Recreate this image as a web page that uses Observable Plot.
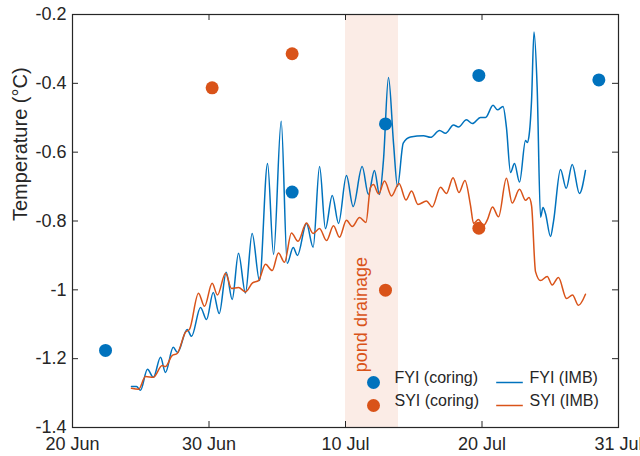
<!DOCTYPE html>
<html>
<head>
<meta charset="utf-8">
<script src="https://cdn.jsdelivr.net/npm/d3@7"></script>
<script src="https://cdn.jsdelivr.net/npm/@observablehq/plot@0.6"></script>
<style>
  html, body { margin: 0; padding: 0; background: #fff; overflow: hidden; }
</style>
</head>
<body>
<div id="chart"></div>
<script>
// ---- Data (x = days since 20 Jun 00:00) ----
const fyiImbDay = [4.32,4.69,4.98,5.49,5.93,6.45,6.81,7.38,7.69,8.40,8.72,9.38,9.82,10.31,10.75,11.26,11.70,12.16,12.67,13.16,13.70,14.29,14.73,15.29,15.73,16.17,16.48,17.14,17.63,18.10,18.53,19.03,19.49,20.07,20.56,21.22,21.68,22.12,22.49,22.78,23.15,23.52,23.81,24.23,24.76,25.71,26.23,26.89,27.33,27.91,28.28,28.86,29.30,29.89,30.26,30.81,31.14,31.54,31.79,32.09,32.38,32.75,33.19,33.31,33.44,33.63,33.81,34.04,34.29,34.47,34.65,35.02,35.24,35.75,36.17,36.61,37.14,37.58];
const fyiImbTemp = [-1.281,-1.281,-1.292,-1.231,-1.254,-1.196,-1.240,-1.167,-1.182,-1.115,-1.135,-1.051,-1.086,-1.008,-1.069,-0.949,-1.028,-0.894,-1.009,-0.836,-0.973,-0.633,-0.897,-0.510,-0.923,-0.877,-0.900,-0.807,-0.876,-0.642,-0.822,-0.726,-0.807,-0.668,-0.758,-0.642,-0.723,-0.653,-0.723,-0.624,-0.383,-0.575,-0.700,-0.574,-0.556,-0.552,-0.557,-0.537,-0.545,-0.521,-0.527,-0.506,-0.517,-0.499,-0.499,-0.464,-0.477,-0.467,-0.528,-0.659,-0.633,-0.687,-0.566,-0.572,-0.554,-0.450,-0.251,-0.411,-0.789,-0.761,-0.778,-0.845,-0.801,-0.650,-0.705,-0.636,-0.720,-0.653];

const syiImbDay = [4.32,4.84,5.35,5.93,6.57,6.81,7.30,7.67,8.28,8.57,9.23,9.67,10.23,10.62,11.21,11.65,12.16,12.67,13.19,13.63,14.14,14.63,15.09,15.53,16.04,16.52,17.14,17.63,18.10,18.61,19.12,19.56,20.07,20.49,21.03,21.50,21.83,22.05,22.42,22.86,23.37,23.92,24.43,24.84,25.31,25.93,26.35,26.96,27.40,27.88,28.31,28.75,29.16,29.38,29.74,30.11,30.40,30.77,31.21,31.79,32.21,32.75,33.19,33.44,33.63,33.92,34.29,34.78,35.14,35.60,36.19,36.63,37.07,37.58];
const syiImbTemp = [-1.286,-1.289,-1.252,-1.254,-1.220,-1.223,-1.191,-1.185,-1.123,-1.115,-1.010,-1.048,-0.981,-1.015,-0.952,-0.996,-0.993,-1.006,-0.980,-0.973,-0.926,-0.944,-0.893,-0.920,-0.835,-0.859,-0.806,-0.836,-0.822,-0.857,-0.814,-0.847,-0.798,-0.816,-0.790,-0.804,-0.702,-0.694,-0.721,-0.684,-0.727,-0.691,-0.739,-0.713,-0.752,-0.742,-0.759,-0.702,-0.720,-0.674,-0.717,-0.682,-0.755,-0.807,-0.796,-0.813,-0.796,-0.759,-0.788,-0.676,-0.748,-0.708,-0.740,-0.732,-0.755,-0.947,-0.973,-0.961,-0.986,-0.964,-1.025,-1.015,-1.045,-1.013];

const fyiCoreDay = [2.42,16.09,22.93,29.77,38.56];
const fyiCoreTemp = [-1.176,-0.716,-0.518,-0.377,-0.390];
const syiCoreDay = [10.23,16.09,22.93,29.77];
const syiCoreTemp = [-0.413,-0.314,-1.001,-0.821];

const drainageDays = [20.0, 23.88];
const drainageLabel = "pond drainage";
const drainageLabelDay = 21.17;
const drainageLabelTemp = -1.072;

const xTickValues = [0,10,20,30,40];
const xTickLabels = ["20 Jun","30 Jun","10 Jul","20 Jul","31 Jul"];
const yTickValues = [-1.4,-1.2,-1,-0.8,-0.6,-0.4,-0.2];
const yTickLabels = ["-1.4","-1.2","-1","-0.8","-0.6","-0.4","-0.2"];

const seriesNames = ["FYI (coring)","SYI (coring)","FYI (IMB)","SYI (IMB)"];
const yLabel = "Temperature (°C)";

// ---- Styling ----
const BLUE = "#0072BD", ORANGE = "#D95319", AX = "#262626";
const W = 640, H = 456, ML = 72, MR = 22, MT = 14, MB = 29;
const PW = W - ML - MR, PH = H - MT - MB;
const FONT = "'Liberation Sans', Arial, Helvetica, sans-serif";

const fyiImb = fyiImbDay.map((d, i) => ({day: d, temp: fyiImbTemp[i]}));
const syiImb = syiImbDay.map((d, i) => ({day: d, temp: syiImbTemp[i]}));
const fyiCore = fyiCoreDay.map((d, i) => ({day: d, temp: fyiCoreTemp[i]}));
const syiCore = syiCoreDay.map((d, i) => ({day: d, temp: syiCoreTemp[i]}));

const lineSymbol = {draw(ctx) { ctx.moveTo(-13.3, 0); ctx.lineTo(13.3, 0); }};

const legendMarks = [
  Plot.dot([seriesNames[0]], {frameAnchor: "bottom-left", dx: 301, dy: -45, r: 6.5, fill: BLUE, stroke: "none"}),
  Plot.text([seriesNames[0]], {frameAnchor: "bottom-left", dx: 322, dy: -45, text: d => d, textAnchor: "start", fontSize: 16, fill: AX}),
  Plot.dot([seriesNames[1]], {frameAnchor: "bottom-left", dx: 301, dy: -22, r: 6.5, fill: ORANGE, stroke: "none"}),
  Plot.text([seriesNames[1]], {frameAnchor: "bottom-left", dx: 322, dy: -22, text: d => d, textAnchor: "start", fontSize: 16, fill: AX}),
  Plot.dot([seriesNames[2]], {frameAnchor: "bottom-left", dx: 437, dy: -45, symbol: lineSymbol, r: 5, fill: "none", stroke: BLUE, strokeWidth: 1.5}),
  Plot.text([seriesNames[2]], {frameAnchor: "bottom-left", dx: 457, dy: -45, text: d => d, textAnchor: "start", fontSize: 16, fill: AX}),
  Plot.dot([seriesNames[3]], {frameAnchor: "bottom-left", dx: 437, dy: -22, symbol: lineSymbol, r: 5, fill: "none", stroke: ORANGE, strokeWidth: 1.5}),
  Plot.text([seriesNames[3]], {frameAnchor: "bottom-left", dx: 457, dy: -22, text: d => d, textAnchor: "start", fontSize: 16, fill: AX})
];

const chart = Plot.plot({
  width: W, height: H,
  marginLeft: ML, marginRight: MR, marginTop: MT, marginBottom: MB,
  style: {fontFamily: FONT, color: AX, background: "#fff", overflow: "visible"},
  x: {domain: [0, 40]},
  y: {domain: [-1.4, -0.2]},
  marks: [
    Plot.rectX([drainageDays], {x1: d => d[0], x2: d => d[1], fill: ORANGE, fillOpacity: 0.11}),
    Plot.text([drainageLabel], {x: () => drainageLabelDay, y: () => drainageLabelTemp, text: d => d, rotate: -90, fontSize: 18, fill: ORANGE}),
    Plot.line(fyiImb, {x: "day", y: "temp", stroke: BLUE, strokeWidth: 1.5, curve: "monotone-x"}),
    Plot.line(syiImb, {x: "day", y: "temp", stroke: ORANGE, strokeWidth: 1.5, curve: "monotone-x"}),
    Plot.dot(fyiCore, {x: "day", y: "temp", r: 6.5, fill: BLUE, stroke: "none"}),
    Plot.dot(syiCore, {x: "day", y: "temp", r: 6.5, fill: ORANGE, stroke: "none"}),
    // inward ticks on all four sides
    Plot.tickX(xTickValues, {x: d => d, insetTop: PH - 6, stroke: AX, strokeWidth: 1}),
    Plot.tickX(xTickValues, {x: d => d, insetBottom: PH - 6, stroke: AX, strokeWidth: 1}),
    Plot.tickY(yTickValues, {y: d => d, insetRight: PW - 6, stroke: AX, strokeWidth: 1}),
    Plot.tickY(yTickValues, {y: d => d, insetLeft: PW - 6, stroke: AX, strokeWidth: 1}),
    Plot.frame({stroke: AX, strokeWidth: 1.2}),
    Plot.axisX(xTickValues, {tickSize: 0, tickPadding: 10, fontSize: 18, label: null,
      tickFormat: d => xTickLabels[xTickValues.indexOf(d)]}),
    Plot.axisY(yTickValues, {tickSize: 0, tickPadding: 6, fontSize: 18, label: null,
      tickFormat: d => yTickLabels[yTickValues.indexOf(d)]}),
    Plot.text([yLabel], {frameAnchor: "left", dx: -52, rotate: -90, text: d => d, fontSize: 20, fill: AX}),
    ...legendMarks
  ]
});
document.getElementById("chart").appendChild(chart);
</script>
</body>
</html>
